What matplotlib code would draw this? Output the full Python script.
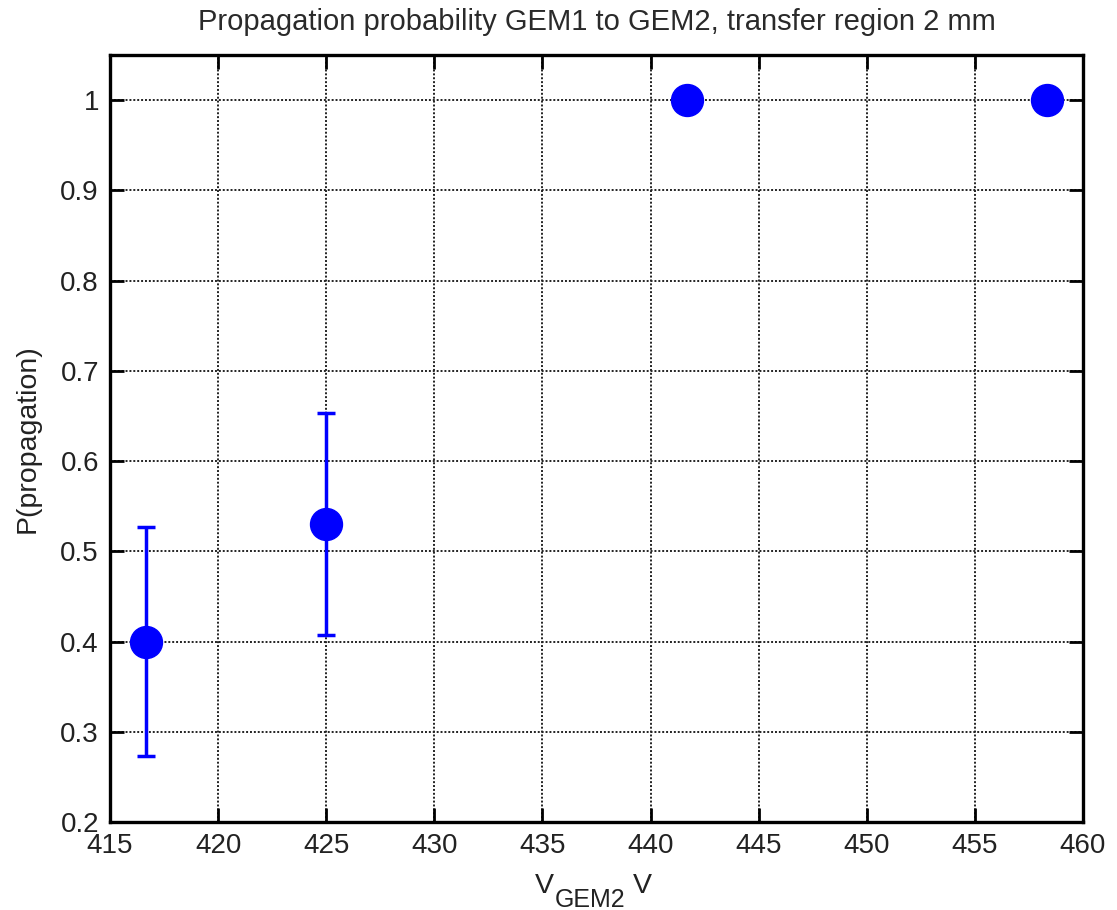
import numpy as np
import matplotlib.pyplot as plt

plt.rcParams['font.family'] = ['Liberation Sans', 'DejaVu Sans']

# данные
V = [416.67, 425.0, 441.67, 458.33]
P = [0.40, 0.53, 1.0, 1.0]
P_err = [0.127, 0.123, 0.0, 0.0]

W, H = 1117, 910
fig = plt.figure(figsize=(W / 100, H / 100), dpi=100)
ax = fig.add_axes([110/W, 1 - 822/H, (1083-110)/W, (822-55)/H])

ax.errorbar(V[:2], P[:2], yerr=P_err[:2], fmt='none', ecolor='#0000ff',
            elinewidth=2.5, capsize=6.5, capthick=2.5, zorder=3)
ax.plot(V, P, 'o', color='#0000ff', markersize=23, zorder=4)

ax.set_xlim(415, 460)
ax.set_ylim(0.2, 1.05)
ax.set_xticks(np.arange(415, 461, 5))
ax.set_yticks([0.2, 0.3, 0.4, 0.5, 0.6, 0.7, 0.8, 0.9, 1.0])
ax.set_yticklabels(['0.2', '0.3', '0.4', '0.5', '0.6', '0.7', '0.8', '0.9', '1'])

ax.grid(True, color='#222222', linestyle=(0, (1.0, 1.0)), linewidth=1.4)
ax.tick_params(direction='in', length=10, width=2, labelsize=20, top=True, right=True,
               labelcolor='#222222')
ax.tick_params(axis='x', pad=8)
ax.tick_params(axis='y', pad=8)
for s in ax.spines.values():
    s.set_linewidth(2.4)

# подпись оси x: V с опущенным индексом GEM2
c = '#222222'
fig.text(535/W, 1 - 893/H, 'V', fontsize=20.5, color=c, va='baseline', ha='left')
fig.text(555/W, 1 - 907/H, 'GEM2', fontsize=18, color=c, va='baseline', ha='left')
fig.text(633/W, 1 - 893/H, 'V', fontsize=20.5, color=c, va='baseline', ha='left')

ax.set_ylabel('P(propagation)', fontsize=20.5, labelpad=14, color=c)
ax.set_title('Propagation probability GEM1 to GEM2, transfer region 2 mm', fontsize=21,
             pad=18, color='#2a2a2a')

plt.savefig('out.png')
